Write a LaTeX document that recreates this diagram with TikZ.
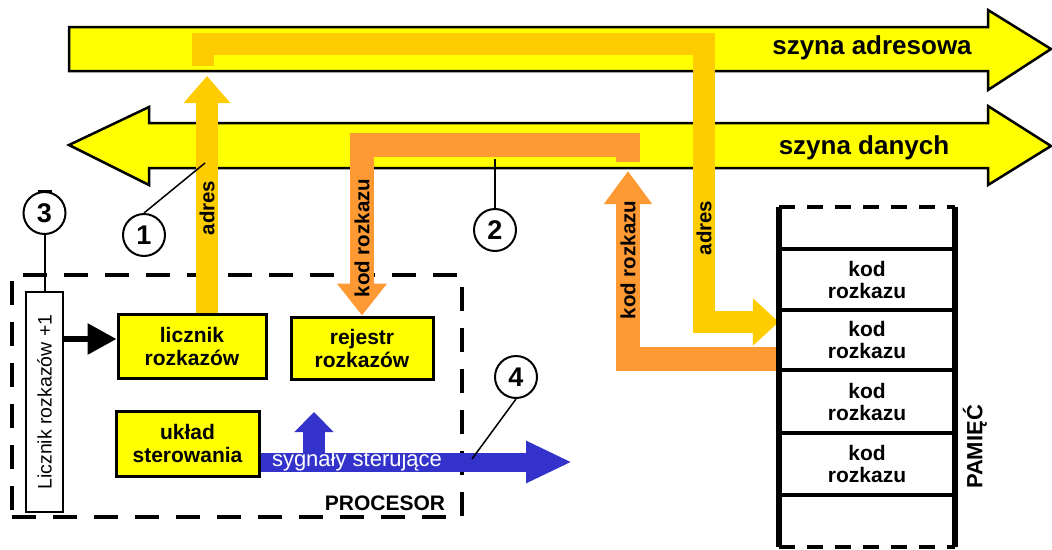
\documentclass[tikz,border=0pt]{standalone}
\usepackage{fontspec}
\setmainfont{Liberation Sans}
\usetikzlibrary{arrows.meta}
\definecolor{busyellow}{HTML}{FFFF00}
\definecolor{adrgold}{HTML}{FFCC00}
\definecolor{datorange}{HTML}{FF9933}
\definecolor{sigblue}{HTML}{3333CC}
\begin{document}
\begin{tikzpicture}[x=1pt,y=-1pt,
  busline/.style={draw,line width=2.5pt,fill=busyellow},
  buslabel/.style={font=\bfseries\fontsize{26}{26}\selectfont},
  unit/.style={draw,line width=3pt,fill=busyellow,align=center,inner sep=0pt,font=\bfseries\fontsize{21}{23}\selectfont},
  adrflow/.style={draw=adrgold,line width=22pt},
  datflow/.style={draw=datorange,line width=24pt},
  sigflow/.style={draw=sigblue,line width=19pt},
  flowlabel/.style={rotate=90,font=\bfseries\fontsize{20.5}{20}\selectfont},
  memcell/.style={minimum width=176pt,inner sep=0pt,align=center,font=\bfseries\fontsize{21}{22}\selectfont},
  callout/.style={circle,draw,line width=2pt,fill=white,minimum size=42pt,inner sep=0pt,font=\bfseries\fontsize{27}{27}\selectfont},
  leader/.style={line width=1.5pt}]
\useasboundingbox (0,0) rectangle (1052,549);
% buses
\path[busline] (69,27) -- (988,27) -- (988,10) -- (1051,49) -- (988,90) -- (988,71) -- (69,71) -- cycle;
\path[busline] (149,123) -- (988,123) -- (988,106) -- (1051,146) -- (988,185) -- (988,168)
  -- (149,168) -- (149,185) -- (69,145) -- (149,107) -- cycle;
\node[buslabel] (adrbus) at (872,48) {szyna adresowa};
\node[buslabel] (datbus) at (864,148) {szyna danych};
% processor
\node[draw,line width=4.5pt,dash pattern=on 24pt off 17pt,minimum width=450pt,minimum height=242pt] (proc) at (237,396) {};
\node[font=\bfseries\fontsize{21}{21}\selectfont] (proclabel) at (385,503) {PROCESOR};
\node[unit,minimum width=148pt,minimum height=64pt] (lic) at (192,346) {licznik\\rozkazów};
\node[unit,minimum width=142pt,minimum height=62pt] (reg) at (362,348) {rejestr\\rozkazów};
\node[unit,minimum width=143pt,minimum height=65pt] (ster) at (187.5,443.5) {układ\\sterowania};
\node[draw,line width=2.5pt,fill=white,minimum width=37pt,minimum height=220pt] (inc) at (44.5,402) {};
\node[rotate=90,font=\fontsize{19.5}{19}\selectfont] (inclabel) at (inc) {Licznik rozkazów +1};
% memory
\node[memcell,minimum height=42pt] (m1) at (867,228) {};
\node[memcell,minimum height=61pt] (m2) at (867,279.5) {kod\\rozkazu};
\node[memcell,minimum height=60pt] (m3) at (867,340) {kod\\rozkazu};
\node[memcell,minimum height=63pt] (m4) at (867,401.5) {kod\\rozkazu};
\node[memcell,minimum height=62pt] (m5) at (867,464) {kod\\rozkazu};
\node[memcell,minimum height=52pt] (m6) at (867,521) {};
\node[rotate=90,font=\bfseries\fontsize{22}{22}\selectfont] (memlabel) at (975,447) {PAMIĘĆ};
% address flow
\coordinate (adrtop) at (207,76);
\coordinate (adrin) at (203,66);
\draw[adrflow,-{Triangle[width=45pt,length=27pt]}] (lic.north -| adrtop) -- (adrtop);
\node[flowlabel] at (207,208) {adres};
\draw[adrflow,-{Triangle[width=46pt,length=26pt]}] (adrin) |- (704,43.5) |- ([yshift=18pt]m3.west);
\node[flowlabel] at (704,228) {adres};
% data flow
\coordinate (datin) at (628,162);
\coordinate (dattop) at (628,171);
\draw[datflow,-{Triangle[width=48pt,length=32pt]}] (datin) -- ++(0,-17) -| (reg.north);
\node[flowlabel] at (362,238) {kod rozkazu};
\draw[datflow,-{Triangle[width=46pt,length=33pt]}] ([yshift=-19pt]m3.west) -| (dattop);
\node[flowlabel] at (628,260) {kod rozkazu};
% control signals
\coordinate (sigend) at (572,462);
\coordinate (sigup) at (314,412);
\draw[sigflow,line width=22pt,-{Triangle[width=38pt,length=20pt]}] (sigup |- sigend) -- (sigup);
\draw[sigflow,-{Triangle[width=39pt,length=46pt]}] (ster.east |- sigend) -- (sigend);
\node[text=white,font=\fontsize{22}{22}\selectfont] (siglabel) at (357,461) {sygnały sterujące};
% counter increment
\coordinate (licin) at ([yshift=7pt]lic.west);
\draw[line width=6pt,-{Triangle[width=30pt,length=29pt]}] (inc.east |- licin) -- (licin);
% memory lines
\draw[line width=6pt] (m1.north west) -- (m6.south west);
\draw[line width=6pt] (m1.north east) -- (m6.south east);
\draw[line width=4pt] (m1.south west) -- (m1.south east);
\draw[line width=4pt] (m2.south west) -- (m2.south east);
\draw[line width=4pt] (m3.south west) -- (m3.south east);
\draw[line width=4pt] (m4.south west) -- (m4.south east);
\draw[line width=4pt] (m5.south west) -- (m5.south east);
\draw[line width=3.5pt,dash pattern=on 16pt off 12pt] (m1.north west) -- (m1.north east);
\draw[line width=3.5pt,dash pattern=on 16pt off 12pt] (m6.south west) -- (m6.south east);
% callouts
\node[callout] (c1) at (144,235) {1};
\node[callout] (c2) at (495,230) {2};
\node[callout] (c3) at (44.5,213) {3};
\node[callout] (c4) at (516,377) {4};
\coordinate (p1) at (205,163);
\coordinate (p2) at (495,159);
\coordinate (p4) at (472,459);
\draw[leader] (c1.north) -- (p1);
\draw[leader] (c2) -- (p2);
\draw[leader] (c4.south) -- (p4);
\draw[line width=2pt] (c3) -- (inc);
\draw[line width=3pt] ([xshift=-7pt]c3.north) -- ([xshift=7pt]c3.north);
\end{tikzpicture}
\end{document}
